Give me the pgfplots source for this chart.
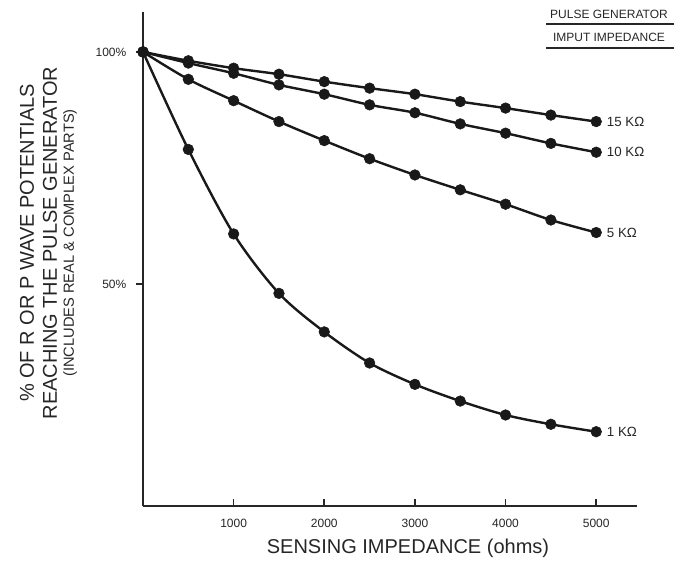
\documentclass[border=0pt]{standalone}
\usepackage{fontspec}
\setmainfont{Liberation Sans}
\usepackage{pgfplots}
\usepackage{pgfplotstable}
\pgfplotsset{compat=1.18}

% percent reaching the pulse generator vs sensing impedance
\pgfplotstableread{
x    k1    k5    k10   k15
0    100   100   100   100
500  79.0  94.1  97.6  98.1
1000 60.8  89.5  95.4  96.5
1500 48.0  85.0  92.9  95.2
2000 39.7  80.9  90.9  93.6
2500 33.0  77.0  88.6  92.2
3000 28.4  73.5  86.9  90.9
3500 24.8  70.3  84.5  89.3
4000 21.8  67.2  82.5  87.9
4500 19.8  63.8  80.3  86.4
5000 18.2  61.1  78.4  85.0
}\imptable

\tikzset{imp/.style={black!90, line width=1.8pt, smooth, mark=*,
    mark size=4pt, mark options={solid, line width=0.4pt}}}

\begin{document}
\begin{tikzpicture}
\begin{axis}[
    at={(107.25pt,47.25pt)}, anchor=south west,
    scale only axis, width=370.5pt, height=370.5pt,
    xmin=0, xmax=5450, ymin=2.2, ymax=108.6,
    axis lines*=left,
    axis line style={line width=1.2pt, black!85},
    clip=false,
    xtick={1000,2000,3000,4000,5000},
    xticklabels={1000,2000,3000,4000,5000},
    ytick={50,100}, yticklabels={50\%,100\%},
    tick align=inside, major tick length=5pt,
    tick style={line width=1.2pt, black!85},
    ytick style={xshift=-5pt},
    ticklabel style={font=\fontsize{9}{10}\selectfont, text=black!85},
    xticklabel style={yshift=-6.5pt},
    yticklabel style={xshift=-9pt},
]
\addplot[imp] table[x=x, y=k1]  {\imptable};
\addplot[imp] table[x=x, y=k5]  {\imptable};
\addplot[imp] table[x=x, y=k10] {\imptable};
\addplot[imp] table[x=x, y=k15] {\imptable};

\begin{scope}[every node/.style={anchor=west, xshift=4.5pt,
        font=\fontsize{10}{12}\selectfont, text=black!85}]
\node at (axis cs:5000,85.0) {15 KΩ};
\node at (axis cs:5000,78.4) {10 KΩ};
\node at (axis cs:5000,61.1) {5 KΩ};
\node at (axis cs:5000,18.2) {1 KΩ};
\end{scope}
\end{axis}

\begin{scope}[x=0.75pt, y=0.75pt]
\path (0,0) rectangle (678,569);
% y axis title
\node[rotate=90, font=\fontsize{15}{18}\selectfont, text=black!85]
    at (27,326) {\% OF R OR P WAVE POTENTIALS};
\node[rotate=90, font=\fontsize{15}{18}\selectfont, text=black!85]
    at (50,326) {REACHING THE PULSE GENERATOR};
\node[rotate=90, font=\fontsize{11}{13}\selectfont, text=black!85]
    at (70,326) {(INCLUDES REAL \& COMPLEX PARTS)};
% x axis title
\node[font=\fontsize{15}{18}\selectfont, text=black!85]
    at (408,21) {SENSING IMPEDANCE (ohms)};
% key in the top right corner
\node[font=\fontsize{9}{10}\selectfont, text=black!85] at (609,555) {PULSE GENERATOR};
\draw[line width=1.1pt, black!85] (546,545) -- (674,545);
\node[font=\fontsize{9}{10}\selectfont, text=black!85] at (609,532) {IMPUT IMPEDANCE};
\draw[line width=1.1pt, black!85] (546,521) -- (674,521);
\end{scope}
\end{tikzpicture}
\end{document}
